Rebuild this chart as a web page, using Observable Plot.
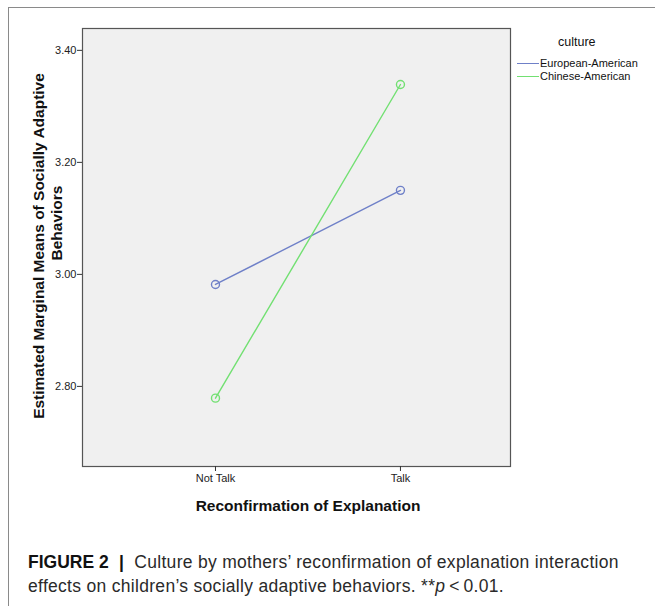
<!DOCTYPE html>
<html>
<head>
<meta charset="utf-8">
<script src="https://cdn.jsdelivr.net/npm/d3@7"></script>
<script src="https://cdn.jsdelivr.net/npm/@observablehq/plot@0.6"></script>
<style>
  html, body { margin: 0; padding: 0; background: #fff; }
  body { width: 655px; height: 606px; position: relative; overflow: hidden; font-family: "Liberation Sans", Arial, sans-serif; }
  #frame { position: absolute; left: 8px; top: 7px; width: 660px; height: 620px; border-left: 1px solid #8a8a8a; border-top: 1px solid #8a8a8a; }
  #chart { position: absolute; left: 0; top: 0; }
  #legend { position: absolute; left: 517px; top: 35px; font-size: 11px; color: #111; }
  #legend .ttl { position: absolute; left: 41px; top: 0; font-size: 12.5px; white-space: nowrap; }
  #legend .row { position: absolute; left: 0; white-space: nowrap; line-height: 13px; }
  #legend .sw { display: inline-block; width: 22px; height: 0; border-top: 1.5px solid; vertical-align: middle; margin-right: 1px; position: relative; top: -1px; }
  #caption { position: absolute; left: 28px; top: 550px; font-size: 17.5px; letter-spacing: 0.3px; line-height: 24px; color: #2a2a2a; white-space: nowrap; }
  #caption b { color: #111; letter-spacing: 0; }
</style>
</head>
<body>
<div id="frame"></div>
<div id="chart"></div>
<div id="legend"></div>
<div id="caption"><b>FIGURE 2</b>&nbsp; <b>|</b>&nbsp; Culture by mothers’ reconfirmation of explanation interaction<br>effects on children’s socially adaptive behaviors. **<i>p</i>&thinsp;&lt;&thinsp;0.01.</div>
<script>
const xLabels = ["Not Talk", "Talk"];
const cultures = ["European-American", "Chinese-American"];
const colors = ["#6f80c8", "#72e072"];
const europeanValues = [2.982, 3.150];
const chineseValues = [2.779, 3.339];
const yTicks = [2.80, 3.00, 3.20, 3.40];

const data = [];
[europeanValues, chineseValues].forEach((vals, i) => {
  vals.forEach((v, j) => data.push({culture: cultures[i], x: j, y: v}));
});

const W = 655, H = 520;
const plot = Plot.plot({
  width: W,
  height: H,
  marginLeft: 82,
  marginRight: W - 510,
  marginTop: 28,
  marginBottom: H - 466,
  style: {fontFamily: "'Liberation Sans', Arial, sans-serif", fontSize: "11px", color: "#222", background: "transparent"},
  x: {domain: [-0.719, 1.595]},
  y: {domain: [2.657, 3.439]},
  color: {domain: cultures, range: colors},
  marks: [
    Plot.frame({fill: "#f0f0f0", stroke: "#555", strokeWidth: 1.2}),
    Plot.axisY({ticks: yTicks, tickFormat: d3.format(".2f"), tickSize: 5, tickPadding: 1, label: null, stroke: "#333"}),
    Plot.axisX({ticks: [0, 1], tickFormat: d => xLabels[d], tickSize: 5, tickPadding: 3, label: null, stroke: "#333"}),
    Plot.line(data, {x: "x", y: "y", z: "culture", stroke: "culture", strokeWidth: 1.4}),
    Plot.dot(data, {x: "x", y: "y", stroke: "culture", fill: "none", r: 4, strokeWidth: 1.4})
  ]
});
document.getElementById("chart").appendChild(plot);

const svg = d3.select(plot);
svg.append("text")
  .attr("transform", "translate(308,511)")
  .attr("text-anchor", "middle")
  .attr("font-weight", "bold")
  .attr("font-size", "15.5px")
  .attr("fill", "#111")
  .text("Reconfirmation of Explanation");
svg.append("text")
  .attr("transform", "translate(44,246) rotate(-90)")
  .attr("text-anchor", "middle")
  .attr("font-weight", "bold")
  .attr("font-size", "15.5px")
  .attr("fill", "#111")
  .text("Estimated Marginal Means of Socially Adaptive");
svg.append("text")
  .attr("transform", "translate(62,223) rotate(-90)")
  .attr("text-anchor", "middle")
  .attr("font-weight", "bold")
  .attr("font-size", "15.5px")
  .attr("fill", "#111")
  .text("Behaviors");

const legend = document.getElementById("legend");
legend.innerHTML = `<div class="ttl">culture</div>` + cultures.map((c, i) =>
  `<div class="row" style="top:${22 + i * 13}px"><span class="sw" style="border-color:${colors[i]}"></span>${c}</div>`).join("");
</script>
</body>
</html>
